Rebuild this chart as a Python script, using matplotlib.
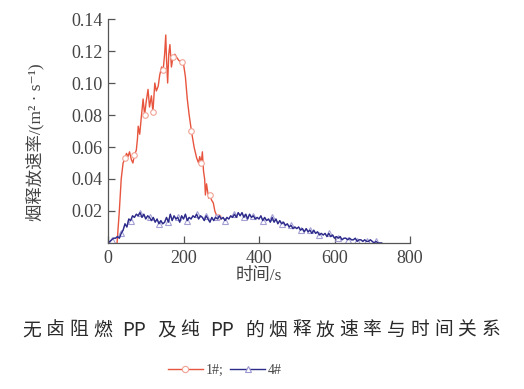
import matplotlib
matplotlib.use("Agg")
import matplotlib.pyplot as plt
from matplotlib.lines import Line2D

# 1# : halogen-free flame retardant PP
t1 = [24, 30, 35, 40, 45, 49, 53, 57, 62, 66, 70, 75, 78, 80, 84, 88, 93, 97, 101, 106,
      110, 115, 119, 124, 128, 133, 137, 142, 146, 150, 153, 155, 158, 161, 164, 168, 172, 177, 182, 188,
      195, 200, 205, 210, 215, 221, 228, 235, 240, 243, 247, 250, 253, 256, 258, 261, 264, 267, 270, 274,
      279, 283, 288, 292, 296]
srr1 = [0.000, 0.020, 0.040, 0.050, 0.053, 0.056, 0.054, 0.057, 0.052, 0.050,
        0.055, 0.058, 0.065, 0.073, 0.068, 0.078, 0.090, 0.080, 0.088, 0.096,
        0.085, 0.092, 0.082, 0.100, 0.095, 0.098, 0.105, 0.110, 0.108, 0.118,
        0.130, 0.115, 0.100, 0.118, 0.124, 0.110, 0.116, 0.118, 0.116, 0.114,
        0.113, 0.112, 0.104, 0.090, 0.080, 0.070, 0.060, 0.053, 0.050, 0.054,
        0.050, 0.057, 0.045, 0.040, 0.030, 0.037, 0.032, 0.028, 0.030, 0.027,
        0.025, 0.020, 0.017, 0.016, 0.015]

# 4# : pure PP, sampled every 5 s
t4 = list(range(0, 730, 5))
srr4 = [0.000, 0.001, 0.002, 0.003, 0.003, 0.004, 0.003, 0.006, 0.008, 0.012,
        0.010, 0.015, 0.014, 0.017, 0.016, 0.018, 0.017, 0.019, 0.016, 0.018,
        0.015, 0.017, 0.016, 0.014, 0.016, 0.013, 0.015, 0.012, 0.014, 0.012,
        0.013, 0.016, 0.013, 0.018, 0.014, 0.017, 0.015, 0.016, 0.013, 0.017,
        0.015, 0.018, 0.014, 0.016, 0.015, 0.017, 0.016, 0.018, 0.015, 0.017,
        0.016, 0.014, 0.017, 0.015, 0.013, 0.016, 0.014, 0.016, 0.015, 0.017,
        0.015, 0.016, 0.014, 0.016, 0.015, 0.017, 0.016, 0.018, 0.016, 0.019,
        0.017, 0.019, 0.016, 0.018, 0.015, 0.018, 0.016, 0.017, 0.015, 0.016,
        0.015, 0.017, 0.014, 0.016, 0.014, 0.015, 0.013, 0.016, 0.013, 0.015,
        0.012, 0.014, 0.012, 0.013, 0.011, 0.012, 0.010, 0.011, 0.009, 0.010,
        0.009, 0.010, 0.008, 0.009, 0.007, 0.009, 0.007, 0.008, 0.006, 0.008,
        0.006, 0.007, 0.005, 0.006, 0.005, 0.006, 0.004, 0.006, 0.004, 0.005,
        0.003, 0.004, 0.003, 0.004, 0.002, 0.003, 0.003, 0.002, 0.003, 0.002,
        0.002, 0.003, 0.001, 0.002, 0.002, 0.001, 0.002, 0.001, 0.001, 0.002,
        0.001, 0.000, 0.001, 0.000, 0.000, 0.000]

xticks = [0, 200, 400, 600, 800]
yticks = [0.02, 0.04, 0.06, 0.08, 0.10, 0.12, 0.14]
labels = ["1#;", "4#"]

title_tokens = ["无", "卤", "阻", "燃", " ", "PP", " ", "及", "纯", " ", "PP", " ",
                "的", "烟", "释", "放", "速", "率", "与", "时", "间", "关", "系"]
xlabel = "时间/s"
ylabel = "烟释放速率/(m² · s⁻¹)"

RED = "#e8553f"
RED_MK = "#f0a394"
NAVY = "#2d2b8a"
LAV = "#9a96d0"
GREY = "#555555"

serif_cjk = ["Liberation Serif", "Noto Sans CJK SC", "DejaVu Serif"]
plt.rcParams["font.family"] = serif_cjk

fig = plt.figure(figsize=(5.24, 3.89), dpi=100)
ax = fig.add_axes([108 / 524, 1 - 243 / 389, 302 / 524, 224 / 389])

ax.plot(t1, srr1, color=RED, lw=1.0, marker="o", ms=4.0, mfc="white", mec=RED_MK,
        mew=0.8, markevery=[4, 10, 17, 22, 28, 36, 40, 45, 50, 58, 63])
ax.plot(t4, srr4, color=LAV, lw=0.8, marker="^", ms=4.5, mfc="white", mec=LAV,
        mew=0.8, markevery=(2, 5), alpha=0.9)
ax.plot(t4, srr4, color=NAVY, lw=1.0)

ax.set_xlim(0, 800)
ax.set_ylim(0, 0.14)
ax.set_xticks(xticks)
ax.set_yticks(yticks)
ax.set_yticklabels([f"{v:.2f}" for v in yticks])
for s in ["top", "right"]:
    ax.spines[s].set_visible(False)
for s in ["left", "bottom"]:
    ax.spines[s].set_color(GREY)
    ax.spines[s].set_linewidth(0.9)
ax.tick_params(direction="in", length=5, width=0.9, color=GREY, labelcolor="#444444",
               labelsize=13)
ax.tick_params(axis="x", pad=5)
ax.tick_params(axis="y", pad=4)

ax.set_xlabel(xlabel, fontsize=12.5, color="#444444")
ax.xaxis.set_label_coords(0.5, -0.11)
ax.set_ylabel(ylabel, fontsize=12.5, color="#444444")
ax.yaxis.set_label_coords(-0.21, 0.45)

# letter-spaced title, laid out token by token
renderer = fig.canvas.get_renderer()
tprops = dict(fontsize=13.5, family=["Noto Sans CJK SC", "DejaVu Sans"], color="#2a2a2a",
              va="center", ha="left")
widths = []
for tok in title_tokens:
    if tok == " ":
        widths.append(0.0)
        continue
    tt = fig.text(0, 0, tok, **tprops)
    widths.append(tt.get_window_extent(renderer).width)
    tt.remove()
x0, x1 = 22, 500
n_gap = len(title_tokens) - 1
n_space = title_tokens.count(" ")
# each space adds an extra 6 px on top of the normal tracking
track = (x1 - x0 - sum(widths) - 6 * n_space) / (n_gap - n_space)
x = x0
for tok, w in zip(title_tokens, widths):
    if tok == " ":
        x += 6
        continue
    fig.text(x / 524, 1 - 330 / 389, tok, **tprops)
    x += w + track

handles = [
    Line2D([], [], color=RED, lw=1.0, marker="o", ms=4.5, mfc="white", mec=RED_MK, mew=0.8),
    Line2D([], [], color=NAVY, lw=1.0, marker="^", ms=4.5, mfc="white", mec=LAV, mew=0.8),
]
fig.legend(handles, labels, loc="center", bbox_to_anchor=(225 / 524, 1 - 370 / 389),
           ncol=2, frameon=False, handlelength=2.5, handletextpad=0.2, columnspacing=0.5,
           prop={"family": "Liberation Serif", "size": 10}, labelcolor="#444444")

fig.savefig("out.png", dpi=100)
